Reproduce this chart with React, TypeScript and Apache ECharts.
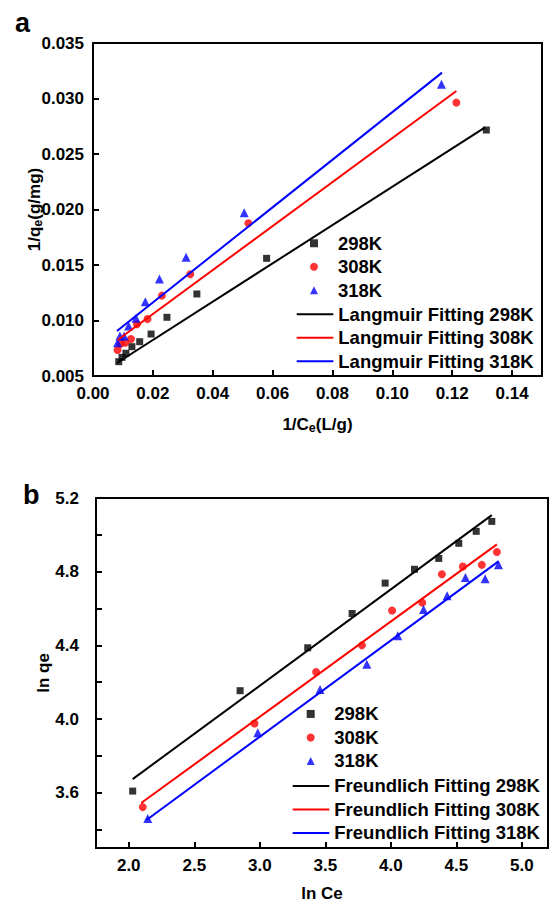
import React, { useEffect, useRef } from 'react';
import * as echarts from 'echarts';

const FONT = '"Liberation Sans", Arial, sans-serif';

// ---------- Panel a (Langmuir) ----------
const langmuir298: number[][] = [
  [0.1314, 0.02716], [0.058, 0.0156], [0.0347, 0.01239], [0.0247, 0.01029], [0.0194, 0.00878],
  [0.0156, 0.00809], [0.013, 0.00764], [0.011, 0.00705], [0.0097, 0.00668], [0.0086, 0.00629],
];
const langmuir308: number[][] = [
  [0.1214, 0.02963], [0.0519, 0.01876], [0.0325, 0.01416], [0.023, 0.01224], [0.0182, 0.01014],
  [0.0147, 0.00966], [0.0127, 0.00833], [0.0108, 0.008], [0.0092, 0.0079], [0.0082, 0.00734],
];
const langmuir318: number[][] = [
  [0.1164, 0.03128], [0.0505, 0.0197], [0.0311, 0.0157], [0.0222, 0.01374], [0.01747, 0.0117],
  [0.01437, 0.0102], [0.0119, 0.0095], [0.0104, 0.0086], [0.009, 0.0086], [0.0082, 0.008],
];
const langmuirFit298: number[][] = [[0.008, 0.00617], [0.131, 0.0274]];
const langmuirFit308: number[][] = [[0.0082, 0.00824], [0.1214, 0.03068]];
const langmuirFit318: number[][] = [[0.008, 0.00905], [0.1166, 0.03233]];

const aXTicks = [0, 0.02, 0.04, 0.06, 0.08, 0.1, 0.12, 0.14];
const aYTicks = [0.005, 0.01, 0.015, 0.02, 0.025, 0.03, 0.035];

// ---------- Panel b (Freundlich) ----------
const freundlich298: number[][] = [
  [2.03, 3.609], [2.85, 4.154], [3.366, 4.387], [3.705, 4.573], [3.957, 4.738],
  [4.181, 4.813], [4.366, 4.872], [4.519, 4.954], [4.652, 5.019], [4.771, 5.073],
];
const freundlich308: number[][] = [
  [2.107, 3.522], [2.96, 3.976], [3.43, 4.255], [3.78, 4.4], [4.01, 4.589],
  [4.24, 4.632], [4.39, 4.786], [4.55, 4.828], [4.695, 4.837], [4.81, 4.907],
];
const freundlich318: number[][] = [
  [2.145, 3.46], [2.985, 3.925], [3.46, 4.16], [3.817, 4.298], [4.053, 4.452],
  [4.25, 4.595], [4.43, 4.669], [4.57, 4.768], [4.72, 4.762], [4.822, 4.837],
];
const freundlichFit298: number[][] = [[2.03, 3.674], [4.771, 5.107]];
const freundlichFit308: number[][] = [[2.095, 3.544], [4.81, 4.948]];
const freundlichFit318: number[][] = [[2.133, 3.451], [4.822, 4.856]];

const bXLabels = [2.0, 2.5, 3.0, 3.5, 4.0, 4.5, 5.0];
const bYLabels = [3.6, 4.0, 4.4, 4.8, 5.2];
const bYTicks = [3.4, 3.6, 3.8, 4.0, 4.2, 4.4, 4.6, 4.8, 5.0, 5.2];

const BLACK = '#000000';
const RED = '#ff0000';
const BLUE = '#0000ff';

const labelStyle = { color: '#000', fontFamily: FONT, fontWeight: 'bold' as const, fontSize: 17 };
const nameRich = {
  s: { fontFamily: FONT, fontWeight: 'bold' as const, fontSize: 12.5, color: '#000', padding: [7, 0, 0, 0] },
};

function axis(
  gridIndex: number, min: number, max: number, labels: number[], ticks: number[],
  digits: number, name: string, nameGap: number, labelMargin: number
) {
  return {
    type: 'value',
    gridIndex,
    min,
    max,
    name,
    nameLocation: 'middle',
    nameGap,
    nameMoveOverlap: false,
    nameTextStyle: { ...labelStyle, rich: nameRich },
    axisLine: { show: true, onZero: false, lineStyle: { color: '#000', width: 2 } },
    axisTick: { show: true, inside: true, length: 6, customValues: ticks, lineStyle: { color: '#000', width: 2 } },
    axisLabel: {
      ...labelStyle,
      margin: labelMargin,
      customValues: labels,
      formatter: (v: number) => v.toFixed(digits),
    },
    splitLine: { show: false },
  };
}

function scatter(name: string, data: number[][], idx: number, symbol: string, size: number, color: string) {
  return {
    type: 'scatter', name, data, xAxisIndex: idx, yAxisIndex: idx,
    symbol, symbolSize: size, itemStyle: { color },
  };
}
function fit(name: string, data: number[][], idx: number, color: string) {
  return {
    type: 'line', name, data, xAxisIndex: idx, yAxisIndex: idx,
    symbol: 'none', showSymbol: false, lineStyle: { color, width: 2 }, itemStyle: { color },
  };
}

const legendText = (padLeft: number) => ({
  ...labelStyle, fontSize: 18.5, lineHeight: 23.5, padding: [0, 0, 0, padLeft],
});

const option = {
  animation: false,
  backgroundColor: '#ffffff',
  title: [
    { text: 'a', left: 10, top: 4, textStyle: { fontFamily: FONT, fontWeight: 'bold', fontSize: 27, color: '#000' } },
    { text: 'b', left: 18, top: 476, textStyle: { fontFamily: FONT, fontWeight: 'bold', fontSize: 27, color: '#000' } },
  ],
  grid: [
    { left: 93, top: 43, width: 449, height: 333, show: true, borderColor: '#000', borderWidth: 2, backgroundColor: 'transparent' },
    { left: 96, top: 498, width: 452, height: 350, show: true, borderColor: '#000', borderWidth: 2, backgroundColor: 'transparent' },
  ],
  xAxis: [
    axis(0, 0, 0.15, aXTicks, aXTicks, 2, '1/C{s|e}(L/g)', 38, 9),
    axis(1, 1.75, 5.2, bXLabels, bXLabels, 1, 'ln Ce', 37, 9),
  ],
  yAxis: [
    axis(0, 0.005, 0.035, aYTicks, aYTicks, 3, '1/q{s|e}(g/mg)', 49, 9),
    axis(1, 3.3, 5.2, bYLabels, bYTicks, 1, 'ln qe', 44, 17),
  ],
  legend: [
    {
      orient: 'vertical', left: 310, top: 231.5, padding: 0, itemWidth: 8, itemHeight: 8, itemGap: 0,
      selectedMode: false, textStyle: legendText(15),
      data: [
        { name: '298K', icon: 'rect' },
        { name: '308K', icon: 'circle' },
        { name: '318K', icon: 'triangle' },
      ],
    },
    {
      orient: 'vertical', left: 296.7, top: 302.5, padding: 0, itemWidth: 36.6, itemHeight: 2, itemGap: 0,
      selectedMode: false, textStyle: legendText(0),
      data: [
        { name: 'Langmuir Fitting 298K', icon: 'rect' },
        { name: 'Langmuir Fitting 308K', icon: 'rect' },
        { name: 'Langmuir Fitting 318K', icon: 'rect' },
      ],
    },
    {
      orient: 'vertical', left: 306.7, top: 702.2, padding: 0, itemWidth: 8, itemHeight: 8, itemGap: 0,
      selectedMode: false, textStyle: legendText(14.6),
      data: [
        { name: '298K', icon: 'rect' },
        { name: '308K', icon: 'circle' },
        { name: '318K', icon: 'triangle' },
      ],
    },
    {
      orient: 'vertical', left: 292.7, top: 774.2, padding: 0, itemWidth: 36.6, itemHeight: 2, itemGap: 0,
      selectedMode: false, textStyle: legendText(0),
      data: [
        { name: 'Freundlich Fitting 298K', icon: 'rect' },
        { name: 'Freundlich Fitting 308K', icon: 'rect' },
        { name: 'Freundlich Fitting 318K', icon: 'rect' },
      ],
    },
  ],
  series: [
    fit('Langmuir Fitting 298K', langmuirFit298, 0, BLACK),
    fit('Langmuir Fitting 308K', langmuirFit308, 0, RED),
    fit('Langmuir Fitting 318K', langmuirFit318, 0, BLUE),
    scatter('298K', langmuir298, 0, 'rect', 7, BLACK),
    scatter('308K', langmuir308, 0, 'circle', 8, RED),
    scatter('318K', langmuir318, 0, 'triangle', 9, BLUE),
    fit('Freundlich Fitting 298K', freundlichFit298, 1, BLACK),
    fit('Freundlich Fitting 308K', freundlichFit308, 1, RED),
    fit('Freundlich Fitting 318K', freundlichFit318, 1, BLUE),
    scatter('298K', freundlich298, 1, 'rect', 7, BLACK),
    scatter('308K', freundlich308, 1, 'circle', 8, RED),
    scatter('318K', freundlich318, 1, 'triangle', 9, BLUE),
  ],
};

export default function App() {
  const ref = useRef<HTMLDivElement>(null);
  useEffect(() => {
    document.body.style.margin = '0';
    const chart = echarts.init(ref.current as HTMLDivElement, null, { renderer: 'svg' });
    chart.setOption(option as any);
    return () => chart.dispose();
  }, []);
  return <div ref={ref} style={{ width: 550, height: 906 }} />;
}
